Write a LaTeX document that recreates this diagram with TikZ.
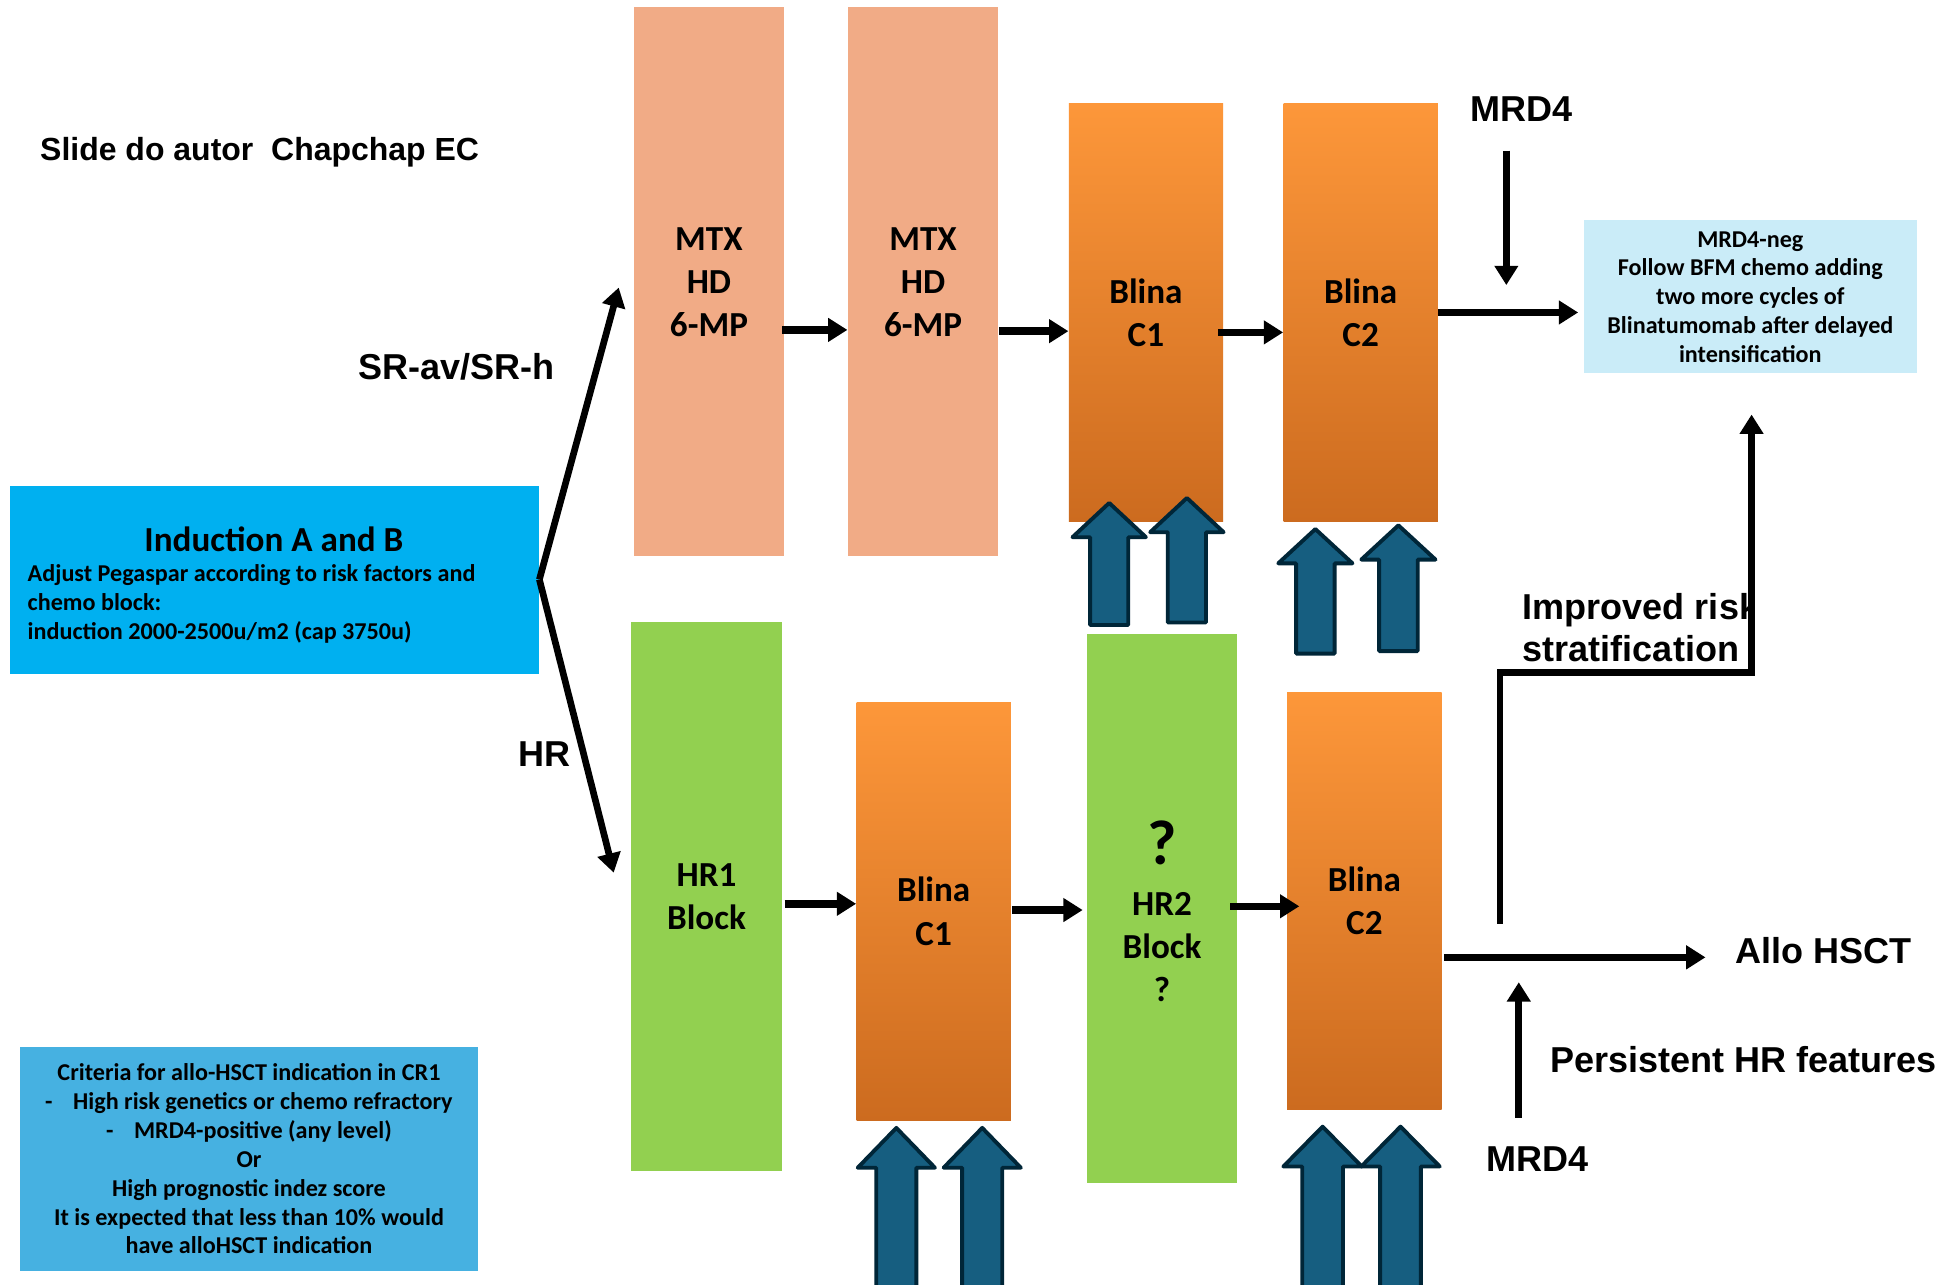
\documentclass[tikz,border=0pt]{standalone}
\usepackage{fontspec}
\setmainfont{Carlito}
\newfontfamily\arialf{Liberation Sans}
\usetikzlibrary{arrows.meta}
\definecolor{salmon}{RGB}{241,171,134}
\definecolor{lgreen}{RGB}{146,208,80}
\definecolor{otop}{RGB}{253,151,58}
\definecolor{obot}{RGB}{204,107,31}
\definecolor{indblue}{RGB}{0,176,240}
\definecolor{critblue}{RGB}{70,177,225}
\definecolor{lightblue}{RGB}{202,236,248}
\definecolor{arrfill}{RGB}{22,94,128}
\definecolor{arrline}{RGB}{0,38,56}
\newcommand{\pxu}{0.0249cm}
\newcommand{\bluearr}[5]{%
  \draw[barrow] (#1,#2) -- ({#1+#4},{#2+#5}) -- ({#1+0.52*#4},{#2+#5}) -- ({#1+0.52*#4},#3)
    -- ({#1-0.52*#4},#3) -- ({#1-0.52*#4},{#2+#5}) -- ({#1-#4},{#2+#5}) -- cycle;}
\begin{document}
\begin{tikzpicture}[x=0.0249cm,y=-0.0249cm,
  cal/.style={font=\bfseries\fontsize{20}{24.5}\selectfont},
  calsm/.style={font=\bfseries\fontsize{13.75}{16.4}\selectfont},
  ar/.style={font=\arialf\bfseries\fontsize{20.5}{24}\selectfont},
  tallbox/.style={inner sep=0pt, minimum width=121*\pxu, minimum height=441*\pxu, align=center, cal},
  orbox/.style={inner sep=0pt, minimum width=124*\pxu, minimum height=336*\pxu, align=center, cal,
     top color=otop, bottom color=obot, draw=none},
  arr/.style={line width=4.2pt, -{Triangle[length=11pt,width=13pt]}},
  farr/.style={line width=3.8pt, -{Triangle[length=11pt,width=13pt]}},
  barrow/.style={fill=arrfill, draw=arrline, line width=2.2pt, line join=round}]
\clip (0,0) rectangle (1568,1032);
\fill[white] (0,0) rectangle (1568,1032);

% title
\node[anchor=west, inner sep=0pt, font=\arialf\bfseries\fontsize{18.2}{22}\selectfont] (title) at (32,122) {Slide do autor\ \ Chapchap EC};

% boxes
\node[fill=indblue, inner sep=0pt, minimum width=425*\pxu, minimum height=151*\pxu] (ind) at (220.5,465.5) {};
\node[cal, inner sep=0pt] (indt) at (220,433) {Induction A and B};
\node[calsm, anchor=west, align=left, inner sep=0pt] (indb) at (22,485) {Adjust Pegaspar according to risk factors and\\chemo block:\\induction 2000-2500u/m2 (cap 3750u)};

\node[fill=critblue, calsm, align=center, inner sep=0pt, minimum width=368*\pxu, minimum height=180*\pxu] (crit) at (200,931)
 {Criteria for allo-HSCT indication in CR1\\-\hspace{0.85em}High risk genetics or chemo refractory\\-\hspace{0.85em}MRD4-positive (any level)\\Or\\High prognostic indez score\\It is expected that less than 10\% would\\have alloHSCT indication};

\node[fill=lightblue, calsm, align=center, inner sep=0pt, minimum width=268*\pxu, minimum height=123*\pxu] (neg) at (1406,238.5)
 {MRD4-neg\\Follow BFM chemo adding\\two more cycles of\\Blinatumomab after delayed\\intensification};

\node[tallbox, fill=salmon] (mtx1) at (569.5,226.5) {MTX\\HD\\6-MP};
\node[tallbox, fill=salmon] (mtx2) at (741.5,226.5) {MTX\\HD\\6-MP};
\node[orbox] (c1t) at (920.5,251) {Blina\\C1};
\node[orbox] (c2t) at (1093,251) {Blina\\C2};

\node[tallbox, fill=lgreen] (hr1) at (567.5,720.5) {HR1\\Block};
\node[orbox] (c1b) at (750,732) {Blina\\C1};
\node[tallbox, fill=lgreen] (hr2) at (933.5,729.5) {};
\node[cal, align=center, inner sep=0pt] (hr2t) at (933.5,732) {{\fontsize{36}{36}\selectfont ?}\\[5pt]HR2\\Block\\?};
\node[orbox, minimum height=335*\pxu] (c2b) at (1096,723.5) {Blina\\C2};

% labels
\node[ar, inner sep=0pt] (sr) at (367,295) {SR-av/SR-h};
\node[ar, inner sep=0pt] (hrl) at (437,606) {HR};
\node[ar, inner sep=0pt] (mrdt) at (1222,88) {MRD4};
\node[ar, inner sep=0pt] (mrdb) at (1235,931) {MRD4};
\node[ar, inner sep=0pt, anchor=west] (allo) at (1394,764) {Allo HSCT};
\node[ar, inner sep=0pt, anchor=west] (pers) at (1245,851) {Persistent HR features};
\begin{scope}
\clip (1150,440) rectangle (1404,560);
\node[ar, inner sep=0pt, anchor=west, align=left] (impr) at (1223,504) {Improved risk\\stratification};
\end{scope}

% coordinates
\coordinate (ya) at (0,265);
\coordinate (yb) at (0,266);
\coordinate (yc) at (0,267);
\coordinate (yd) at (0,251);
\coordinate (ye) at (0,726);
\coordinate (yf) at (0,731);
\coordinate (yg) at (0,728);
\coordinate (yh) at (0,769);
\coordinate (srend) at (497,231);
\coordinate (hrend) at (493,701);
\coordinate (d1) at (1210,121);
\coordinate (d2) at (1210,229);
\coordinate (u1) at (1220,898);
\coordinate (u2) at (1220,789);
\coordinate (alloend) at (1370,769);
\coordinate (p1) at (1205,742);
\coordinate (p2) at (1407,540);
\coordinate (p3) at (1407,333);

% connectors
\draw[farr] (ind.east) -- (srend);
\draw[farr] (ind.east) -- (hrend);
\draw[arr] ([xshift=-2*\pxu]mtx1.east |- ya) -- (mtx2.west |- ya);
\draw[arr] (mtx2.east |- yb) -- (c1t.west |- yb);
\draw[arr] ([xshift=-4*\pxu]c1t.east |- yc) -- (c2t.west |- yc);
\draw[arr] (c2t.east |- yd) -- ([xshift=-4*\pxu]neg.west |- yd);
\draw[arr] (d1) -- (d2);
\draw[arr] ([xshift=2*\pxu]hr1.east |- ye) -- (c1b.west |- ye);
\draw[arr] ([xshift=1*\pxu]c1b.east |- yf) -- ([xshift=-3*\pxu]hr2.west |- yf);
\draw[arr] ([xshift=-6*\pxu]hr2.east |- yg) -- ([xshift=10*\pxu]c2b.west |- yg);
\draw[arr] ([xshift=2*\pxu]c2b.east |- yh) -- (alloend);
\draw[arr] (u1) -- (u2);
\draw[line width=3.8pt, line join=miter, -{Triangle[length=11pt,width=13pt]}] (p1) |- (p2) -- (p3);

% block arrows
\bluearr{891}{404}{502}{29.5}{27.5}
\bluearr{953.4}{400}{500}{29.5}{27.5}
\bluearr{1056.6}{425}{525}{29.8}{27.5}
\bluearr{1123.3}{422}{523}{29.8}{27.5}
\bluearr{720}{906}{1050}{31}{32}
\bluearr{789}{906}{1050}{31}{32}
\bluearr{1062.4}{905}{1050}{31.5}{32}
\bluearr{1125}{905}{1050}{31.5}{32}
\end{tikzpicture}
\end{document}
